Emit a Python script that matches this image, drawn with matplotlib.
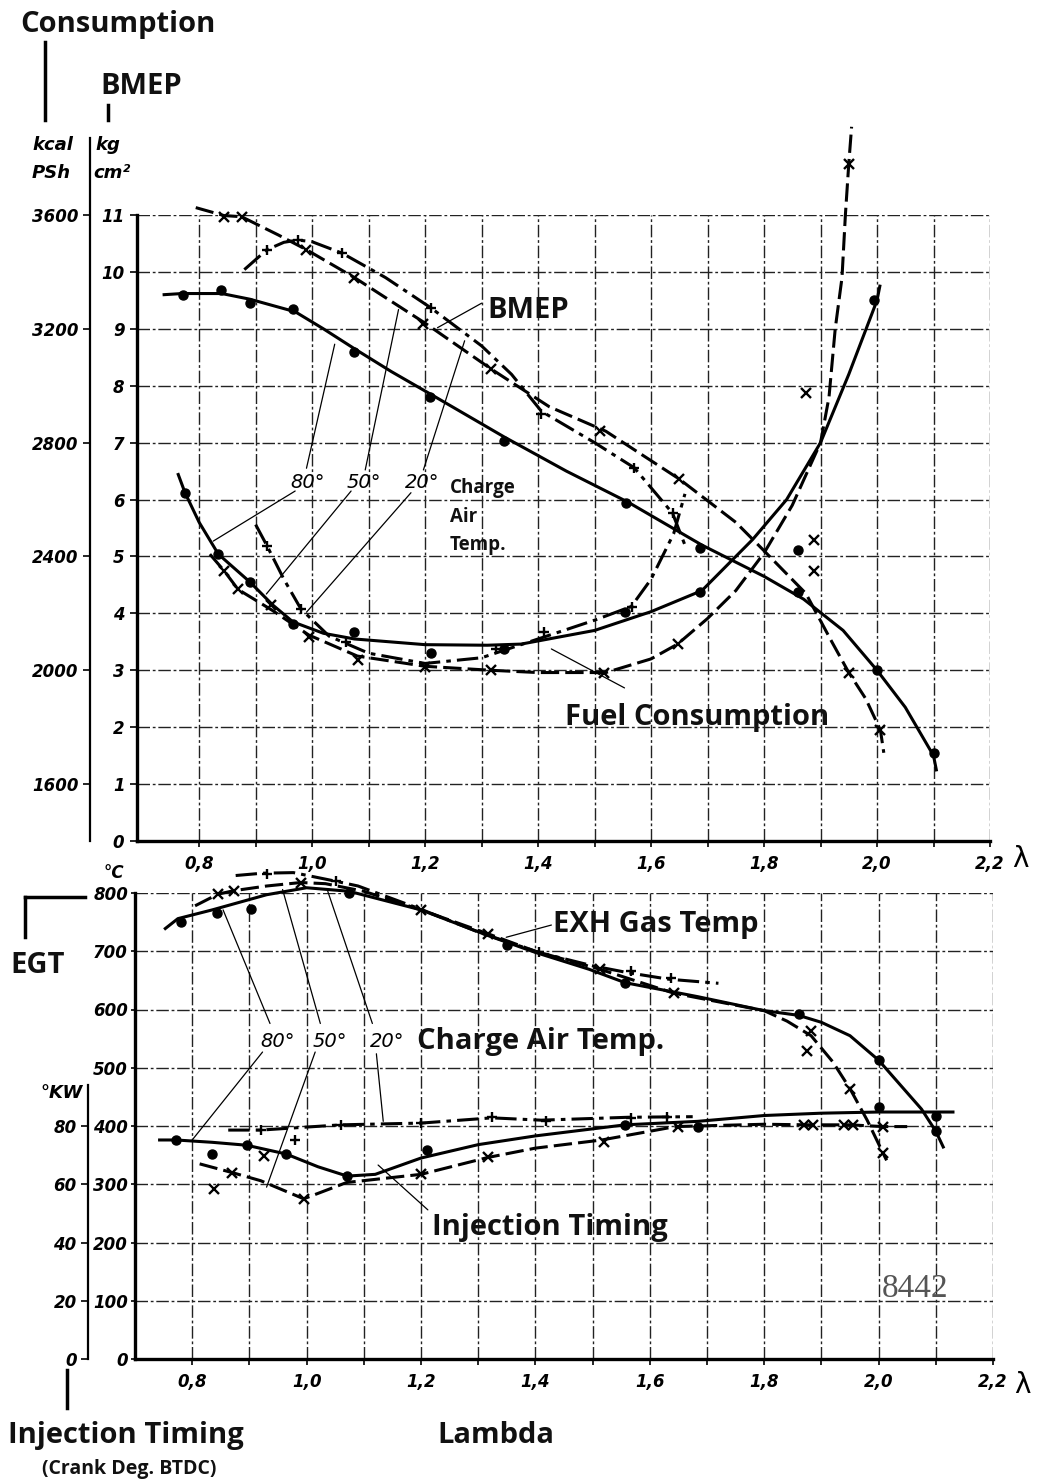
import numpy as np
import matplotlib.pyplot as plt
from matplotlib.lines import Line2D

W, H = 1040, 1483

# ---------------- upper chart: BMEP (kg/cm2) and fuel consumption (kcal/PSh)
# charge air temperature 80 deg (solid, dots)
bmep80_lam = [0.738, 0.77, 0.84, 0.89, 0.97, 1.02, 1.075, 1.14, 1.21, 1.34, 1.45, 1.56, 1.69, 1.80, 1.87, 1.94, 2.0, 2.05, 2.1, 2.105]
bmep80_val = [9.6, 9.62, 9.62, 9.52, 9.3, 9.0, 8.65, 8.25, 7.85, 7.1, 6.5, 5.95, 5.2, 4.65, 4.25, 3.7, 3.0, 2.35, 1.5, 1.25]
bmep80_pt_lam = [0.772, 0.838, 0.89, 0.967, 1.075, 1.208, 1.34, 1.556, 1.686, 1.86, 2.0, 2.1]
bmep80_pt_val = [9.6, 9.69, 9.46, 9.34, 8.59, 7.8, 7.02, 5.94, 5.14, 4.38, 3.0, 1.55]

# charge air temperature 50 deg (dashed, x)
bmep50_lam = [0.794, 0.844, 0.875, 0.94, 0.99, 1.075, 1.2, 1.316, 1.42, 1.52, 1.65, 1.75, 1.8, 1.874, 1.92, 1.95, 1.98, 2.006, 2.012]
bmep50_val = [11.13, 10.99, 10.97, 10.65, 10.39, 9.9, 9.1, 8.3, 7.63, 7.2, 6.36, 5.6, 5.1, 4.35, 3.5, 2.96, 2.5, 1.95, 1.55]
bmep50_pt_lam = [0.844, 0.875, 0.99, 1.075, 1.197, 1.316, 1.51, 1.65, 1.888, 1.95, 2.006]
bmep50_pt_val = [10.97, 10.97, 10.39, 9.9, 9.08, 8.3, 7.2, 6.36, 4.74, 2.96, 1.95]

# charge air temperature 20 deg (dash-dot, +)
bmep20_lam = [0.88, 0.92, 0.95, 0.975, 1.0, 1.053, 1.13, 1.21, 1.3, 1.353, 1.406, 1.5, 1.57, 1.638, 1.66]
bmep20_val = [10.04, 10.39, 10.52, 10.56, 10.53, 10.33, 9.9, 9.37, 8.7, 8.2, 7.55, 7.0, 6.56, 5.76, 5.2]
bmep20_pt_lam = [0.92, 0.975, 1.053, 1.21, 1.406, 1.57, 1.638]
bmep20_pt_val = [10.39, 10.56, 10.33, 9.37, 7.51, 6.56, 5.76]

cons80_lam = [0.763, 0.775, 0.80, 0.834, 0.89, 0.93, 0.966, 1.02, 1.075, 1.2, 1.31, 1.37, 1.5, 1.6, 1.69, 1.78, 1.84, 1.9, 1.95, 2.0, 2.005]
cons80_val = [2688, 2624, 2520, 2408, 2310, 2230, 2170, 2130, 2110, 2090, 2088, 2092, 2140, 2206, 2280, 2460, 2600, 2800, 3040, 3300, 3350]
cons80_pt_lam = [0.775, 0.834, 0.89, 0.966, 1.075, 1.21, 1.34, 1.553, 1.686, 1.86, 1.994]
cons80_pt_val = [2624, 2408, 2310, 2164, 2134, 2060, 2076, 2204, 2276, 2424, 3300]

cons50_lam = [0.819, 0.844, 0.869, 0.93, 0.994, 1.08, 1.2, 1.316, 1.4, 1.52, 1.6, 1.647, 1.7, 1.75, 1.8, 1.85, 1.9, 1.915, 1.926, 1.938, 1.944, 1.95, 1.955]
cons50_val = [2408, 2350, 2284, 2210, 2124, 2050, 2014, 2000, 1992, 1992, 2040, 2092, 2182, 2280, 2412, 2580, 2800, 2960, 3200, 3380, 3600, 3780, 3910]
cons50_pt_lam = [0.844, 0.869, 0.928, 0.994, 1.081, 1.2, 1.316, 1.516, 1.647, 1.874, 1.888, 1.95]
cons50_pt_val = [2350, 2284, 2228, 2118, 2036, 2012, 2000, 1990, 2092, 2976, 2458, 3780]

cons20_lam = [0.90, 0.92, 0.95, 0.98, 1.03, 1.1, 1.2, 1.3, 1.4, 1.5, 1.565, 1.6, 1.64, 1.66]
cons20_val = [2512, 2438, 2320, 2216, 2120, 2060, 2024, 2044, 2110, 2176, 2224, 2320, 2480, 2620]
cons20_pt_lam = [0.92, 0.98, 1.06, 1.325, 1.41, 1.566]
cons20_pt_val = [2438, 2216, 2100, 2076, 2134, 2222]

# ---------------- lower chart: exhaust gas temp (deg C) and injection timing (deg KW)
egt80_lam = [0.753, 0.775, 0.835, 0.93, 1.0, 1.074, 1.2, 1.317, 1.4, 1.494, 1.557, 1.684, 1.8, 1.86, 1.9, 1.95, 2.0, 2.075, 2.1, 2.113]
egt80_val = [739, 756, 771, 797, 809, 803, 771, 727, 698, 669, 646, 622, 598, 590, 578, 555, 513, 429, 391, 364]
egt80_pt_lam = [0.781, 0.843, 0.903, 1.074, 1.35, 1.557, 1.86, 2.0, 2.1]
egt80_pt_val = [750, 766, 773, 800, 710, 646, 592, 513, 391]

egt50_lam = [0.805, 0.845, 0.873, 0.93, 0.99, 1.033, 1.1, 1.2, 1.317, 1.4, 1.513, 1.642, 1.8, 1.84, 1.882, 1.92, 1.95, 1.98, 2.008, 2.014]
egt50_val = [778, 798, 804, 812, 818, 816, 803, 771, 730, 700, 669, 628, 598, 580, 555, 510, 464, 410, 353, 341]
egt50_pt_lam = [0.845, 0.873, 0.99, 1.2, 1.317, 1.513, 1.642, 1.882, 1.874, 1.95, 2.008]
egt50_pt_val = [798, 804, 818, 771, 730, 669, 628, 563, 528, 464, 353]

egt20_lam = [0.876, 0.923, 0.977, 1.052, 1.09, 1.2, 1.3, 1.406, 1.5, 1.563, 1.633, 1.72]
egt20_val = [830, 834, 835, 820, 812, 772, 733, 698, 675, 663, 652, 645]
egt20_pt_lam = [0.93, 1.052, 1.406, 1.567, 1.637]
egt20_pt_val = [833, 820, 698, 666, 654]

inj80_lam = [0.743, 0.772, 0.835, 0.895, 0.964, 1.02, 1.071, 1.12, 1.2, 1.3, 1.4, 1.557, 1.684, 1.8, 1.9, 2.0, 2.13]
inj80_val = [75.2, 75.2, 74.4, 73.4, 70.4, 66.0, 62.8, 63.4, 69.0, 73.6, 76.6, 80.4, 81.6, 83.6, 84.4, 84.8, 84.8]
inj80_pt_lam = [0.772, 0.835, 0.895, 0.964, 1.071, 1.21, 1.557, 1.684, 2.0, 2.1]
inj80_pt_val = [75.2, 70.4, 73.4, 70.4, 62.8, 71.6, 80.4, 79.6, 86.4, 83.4]

inj50_lam = [0.813, 0.87, 0.92, 0.995, 1.07, 1.2, 1.317, 1.4, 1.516, 1.645, 1.8, 1.877, 1.95, 2.008, 2.05]
inj50_val = [67.0, 64.0, 61.2, 55.0, 60.6, 63.4, 69.2, 72.4, 75.2, 79.8, 80.6, 80.4, 80.4, 79.8, 79.8]
inj50_pt_lam = [0.838, 0.87, 0.926, 0.995, 1.2, 1.317, 1.52, 1.65, 1.87, 1.885, 1.94, 1.955, 2.008]
inj50_pt_val = [58.2, 64.0, 69.8, 55.0, 63.4, 69.2, 74.6, 79.8, 80.4, 80.4, 80.4, 80.4, 79.8]

inj20_lam = [0.863, 0.92, 1.06, 1.2, 1.324, 1.41, 1.563, 1.675]
inj20_val = [78.6, 78.6, 80.4, 81.0, 82.8, 82.0, 83.0, 83.2]
inj20_pt_lam = [0.92, 0.98, 1.06, 1.2, 1.324, 1.418, 1.567, 1.63]
inj20_pt_val = [78.6, 75.2, 80.4, 81.0, 83.2, 81.6, 82.6, 83.2]

lam_ticks = [0.8, 1.0, 1.2, 1.4, 1.6, 1.8, 2.0, 2.2]
lam_grid = [0.9, 1.1, 1.3, 1.5, 1.7, 1.9, 2.1]
bmep_ticks = list(range(0, 12))
cons_ticks = [1600, 2000, 2400, 2800, 3200, 3600]
egt_ticks = [0, 100, 200, 300, 400, 500, 600, 700, 800]
inj_ticks = [0, 20, 40, 60, 80]

LS = {80: '-', 50: (0, (6, 2)), 20: (0, (7, 2, 1.5, 2))}
MK = {80: 'o', 50: 'x', 20: '+'}
TICKFONT = dict(fontsize=12, fontstyle='italic', fontweight='bold', family='DejaVu Sans')
LABFONT = dict(family='Open Sans', fontweight='bold', color='#111')


def curve(ax, lam, val, t):
    ax.plot(lam, val, color='black', ls=LS[t], lw=2.2, clip_on=False, zorder=4)


def points(ax, lam, val, t):
    kw = dict(ms=6.5) if t == 80 else dict(ms=7.5, mew=1.7)
    ax.plot(lam, val, ls='none', marker=MK[t], color='black', clip_on=False, zorder=5, **kw)


def lead(ax, p0, p1):
    ax.annotate('', xy=p1, xytext=p0, annotation_clip=False,
                arrowprops=dict(arrowstyle='-', lw=0.9, color='black', shrinkA=0, shrinkB=0))


def ftext(px, py, s, **kw):
    fig.text(px / W, 1 - py / H, s, va='baseline', **kw)


def fline(xs, ys, lw=2.5):
    fig.add_artist(Line2D([x / W for x in xs], [1 - y / H for y in ys], color='black', lw=lw))


def lam_axis(ax, xlim):
    ax.set_xlim(*xlim)
    ax.set_xticks(lam_ticks)
    ax.set_xticklabels([f'{v:.1f}'.replace('.', ',') for v in lam_ticks], **TICKFONT)
    ax.set_xticks(lam_grid, minor=True)
    ax.tick_params(axis='x', which='both', direction='out', length=4, width=1.2, pad=6)
    ax.grid(True, which='both', color='#222', lw=1.0, ls=(0, (9, 2, 2, 2)))
    for s in ('top', 'right'):
        ax.spines[s].set_visible(False)
    for s in ('left', 'bottom'):
        ax.spines[s].set_linewidth(2.4)
    ax.set_axisbelow(True)


def side_axis(ax, ylim, ticks, bounds, pad):
    tw = ax.twinx()
    tw.set_ylim(*ylim)
    for s in ('top', 'right', 'bottom'):
        tw.spines[s].set_visible(False)
    tw.spines['left'].set_visible(True)
    tw.spines['left'].set_position(('outward', 34))
    tw.spines['left'].set_bounds(*bounds)
    tw.spines['left'].set_linewidth(1.6)
    tw.yaxis.set_ticks_position('left')
    tw.set_yticks(ticks)
    tw.set_yticklabels([str(v) for v in ticks], **TICKFONT)
    tw.tick_params(axis='y', direction='out', length=5, width=1.2, pad=pad)
    return tw


fig = plt.figure(figsize=(W / 100, H / 100), dpi=100)

# ======================= upper chart
ax1 = fig.add_axes([137 / W, 1 - 841 / H, (990 - 137) / W, (841 - 215) / H])
lam_axis(ax1, (0.69, 2.2))
ax1.set_ylim(0, 11)
ax1.set_yticks(bmep_ticks)
ax1.set_yticklabels([str(v) for v in bmep_ticks], **TICKFONT)
ax1.tick_params(axis='y', direction='out', length=5, width=1.2, pad=4)
ax2 = side_axis(ax1, (1400, 3600), cons_ticks, (1400, 3870), 3)

for lam, val, t in [(bmep80_lam, bmep80_val, 80), (bmep50_lam, bmep50_val, 50), (bmep20_lam, bmep20_val, 20)]:
    curve(ax1, lam, val, t)
for lam, val, t in [(bmep80_pt_lam, bmep80_pt_val, 80), (bmep50_pt_lam, bmep50_pt_val, 50), (bmep20_pt_lam, bmep20_pt_val, 20)]:
    points(ax1, lam, val, t)
for lam, val, t in [(cons80_lam, cons80_val, 80), (cons50_lam, cons50_val, 50), (cons20_lam, cons20_val, 20)]:
    curve(ax2, lam, val, t)
for lam, val, t in [(cons80_pt_lam, cons80_pt_val, 80), (cons50_pt_lam, cons50_pt_val, 50), (cons20_pt_lam, cons20_pt_val, 20)]:
    points(ax2, lam, val, t)

# leader lines
lead(ax1, (1.30, 9.45), (1.222, 9.02))
lead(ax1, (0.99, 6.55), (1.04, 8.73))
lead(ax1, (0.97, 6.15), (0.825, 5.27))
lead(ax1, (1.094, 6.52), (1.153, 9.34))
lead(ax1, (1.069, 6.15), (0.919, 4.34))
lead(ax1, (1.197, 6.52), (1.27, 8.79))
lead(ax1, (1.175, 6.12), (0.99, 4.02))
lead(ax1, (1.4235, 3.375), (1.553, 2.69))

# ======================= lower chart
ax3 = fig.add_axes([135 / W, 1 - 1359 / H, (993 - 135) / W, (1359 - 893) / H])
lam_axis(ax3, (0.7, 2.2))
ax3.set_ylim(0, 800)
ax3.set_yticks(egt_ticks)
ax3.set_yticklabels([str(v) for v in egt_ticks], **TICKFONT)
ax3.tick_params(axis='y', direction='out', length=3, width=1.2, pad=2)
ax4 = side_axis(ax3, (0, 160), inj_ticks, (0, 94), 3)

for lam, val, t in [(egt80_lam, egt80_val, 80), (egt50_lam, egt50_val, 50), (egt20_lam, egt20_val, 20)]:
    curve(ax3, lam, val, t)
for lam, val, t in [(egt80_pt_lam, egt80_pt_val, 80), (egt50_pt_lam, egt50_pt_val, 50), (egt20_pt_lam, egt20_pt_val, 20)]:
    points(ax3, lam, val, t)
for lam, val, t in [(inj80_lam, inj80_val, 80), (inj50_lam, inj50_val, 50), (inj20_lam, inj20_val, 20)]:
    curve(ax4, lam, val, t)
for lam, val, t in [(inj80_pt_lam, inj80_pt_val, 80), (inj50_pt_lam, inj50_pt_val, 50), (inj20_pt_lam, inj20_pt_val, 20)]:
    points(ax4, lam, val, t)

lead(ax3, (1.428, 745), (1.349, 724))
lead(ax3, (0.936, 576), (0.854, 771))
lead(ax3, (0.923, 527), (0.80, 376))
lead(ax3, (1.024, 576), (0.958, 806))
lead(ax3, (1.015, 527), (0.93, 295))
lead(ax3, (1.115, 576), (1.037, 803))
lead(ax3, (1.122, 524), (1.134, 408))
lead(ax3, (1.212, 256), (1.125, 333))

# ======================= texts
big = dict(fontsize=21, **LABFONT)
unit = dict(fontsize=13, fontstyle='italic', fontweight='bold', family='DejaVu Sans')
deg = dict(fontsize=14, fontstyle='italic', family='DejaVu Sans')

ftext(20, 32, 'Consumption', **big)
fline([45, 45], [42, 120])
ftext(100, 94, 'BMEP', **big)
fline([108, 108], [105, 120])
ftext(32, 150, 'kcal', **unit)
ftext(32, 178, 'PSh', **unit)
ftext(95, 150, 'kg', **unit)
ftext(93, 178, 'cm²', **unit)

ftext(487, 318, 'BMEP', **big)
ftext(290, 488, '80°', **deg)
ftext(347, 488, '50°', **deg)
ftext(405, 488, '20°', **deg)
ftext(450, 493, 'Charge', fontsize=13.5, **LABFONT)
ftext(450, 522, 'Air', fontsize=13.5, **LABFONT)
ftext(450, 550, 'Temp.', fontsize=13.5, **LABFONT)
ftext(565, 725, 'Fuel Consumption', **big)
ftext(1012, 867, 'λ', fontsize=20, family='DejaVu Sans')

ftext(104, 878, '°C', fontsize=12, fontstyle='italic', fontweight='bold', family='DejaVu Sans')
fline([25, 85], [897, 897])
fline([25, 25], [897, 937])
ftext(10, 973, 'EGT', **big)
ftext(40, 1098, '°KW', **unit)
ftext(553, 932, 'EXH Gas Temp', **big)
ftext(260, 1047, '80°', **deg)
ftext(313, 1047, '50°', **deg)
ftext(370, 1047, '20°', **deg)
ftext(417, 1049, 'Charge Air Temp.', **big)
ftext(432, 1235, 'Injection Timing', **big)
ftext(882, 1297, '8442', fontsize=24, family='Liberation Serif', color='#555')
ftext(1014, 1393, 'λ', fontsize=20, family='DejaVu Sans')

fline([67, 67], [1370, 1408])
ftext(8, 1443, 'Injection Timing', **big)
ftext(42, 1474, '(Crank Deg. BTDC)', fontsize=14, **LABFONT)
ftext(437, 1443, 'Lambda', **big)

fig.savefig('out.png', dpi=100)
